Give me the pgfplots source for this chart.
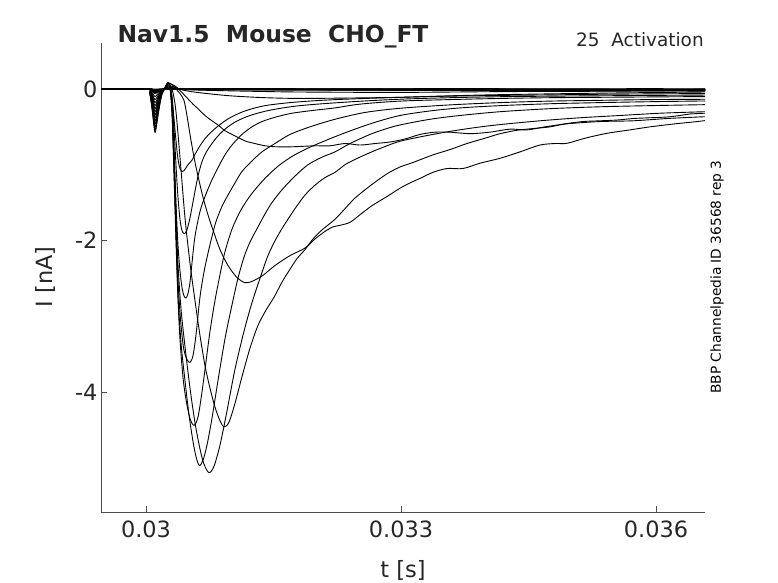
\documentclass[border=0pt]{standalone}
\usepackage{fontspec}
\setmainfont{DejaVu Sans}
\usepackage{pgfplots}
\pgfplotsset{compat=1.18}
\definecolor{axgray}{HTML}{4D4D4D}
\definecolor{txt}{HTML}{262626}
\begin{document}
\begin{tikzpicture}
\path[use as bounding box] (0bp,0bp) rectangle (778bp,583bp);
\begin{axis}[
  at={(101bp,71bp)}, anchor=south west, scale only axis,
  width=604bp, height=469bp,
  xmin=0.029471, xmax=0.036576, ymin=-5.584, ymax=0.607,
  axis lines=left, axis line style={-, draw=axgray, line width=0.8bp},
  tick align=inside, major tick length=6bp,
  tick style={draw=axgray, line width=0.8bp},
  scaled x ticks=false, scaled y ticks=false,
  xtick={0.03,0.033,0.036}, xticklabels={0.03,0.033,0.036},
  ytick={-4,-2,0}, yticklabels={-4,-2,0},
  ticklabel style={font=\fontsize{22.5}{26}\selectfont, text=txt},
  xticklabel style={yshift=-5.5bp},
  cycle list={{black, solid, mark=none}},
  every axis plot/.append style={smooth, tension=0.5, line width=0.9bp, line join=round},
]
% ---- flat traces ----
\addplot coordinates {(0.029471,0.003) (0.030024,0.003) (0.030071,0.001) (0.030106,-0.002) (0.030141,0.000) (0.030212,0.003) (0.030259,0.008) (0.030306,0.002) (0.031224,0.006) (0.032400,0.001) (0.033576,0.005) (0.034753,0.002) (0.035929,0.004) (0.036576,0.001)};
\addplot coordinates {(0.029471,-0.002) (0.030024,-0.002) (0.030071,-0.007) (0.030106,-0.012) (0.030141,-0.008) (0.030212,-0.002) (0.030259,0.010) (0.030306,-0.003) (0.031224,-0.001) (0.032400,-0.006) (0.033576,-0.002) (0.034753,-0.007) (0.035929,-0.003) (0.036576,-0.005)};
\addplot coordinates {(0.029471,0.001) (0.030024,0.001) (0.030071,-0.006) (0.030106,-0.015) (0.030141,-0.009) (0.030212,0.001) (0.030259,0.012) (0.030306,0.000) (0.031224,-0.003) (0.032400,0.002) (0.033576,-0.004) (0.034753,0.000) (0.035929,-0.005) (0.036576,-0.002)};
\addplot coordinates {(0.029471,-0.004) (0.030024,-0.004) (0.030071,-0.013) (0.030106,-0.024) (0.030141,-0.016) (0.030212,-0.004) (0.030259,0.012) (0.030306,-0.005) (0.031224,-0.008) (0.032400,-0.004) (0.033576,-0.009) (0.034753,-0.005) (0.035929,-0.008) (0.036576,-0.010)};
\addplot coordinates {(0.029471,0.002) (0.030024,0.002) (0.030071,-0.009) (0.030106,-0.025) (0.030141,-0.014) (0.030212,0.002) (0.030259,0.015) (0.030306,0.001) (0.031224,-0.001) (0.032400,-0.004) (0.033576,-0.001) (0.034753,-0.005) (0.035929,-0.008) (0.036576,-0.006)};
\addplot coordinates {(0.029471,-0.001) (0.030024,-0.001) (0.030071,-0.014) (0.030106,-0.030) (0.030141,-0.020) (0.030212,-0.001) (0.030259,0.016) (0.030306,-0.002) (0.031224,-0.005) (0.032400,-0.008) (0.033576,-0.005) (0.034753,-0.009) (0.035929,-0.011) (0.036576,-0.012)};
\addplot coordinates {(0.029471,0.000) (0.030024,0.000) (0.030071,-0.016) (0.030106,-0.035) (0.030141,-0.022) (0.030212,0.000) (0.030259,0.018) (0.030306,-0.003) (0.031224,-0.007) (0.032400,-0.010) (0.033576,-0.012) (0.034753,-0.014) (0.035929,-0.012) (0.036576,-0.015)};
\addplot coordinates {(0.029471,-0.003) (0.030024,-0.003) (0.030071,-0.020) (0.030106,-0.040) (0.030141,-0.027) (0.030212,-0.003) (0.030259,0.020) (0.030306,-0.004) (0.031224,-0.008) (0.032400,-0.012) (0.033576,-0.014) (0.034753,-0.016) (0.035929,-0.017) (0.036576,-0.018)};
\addplot coordinates {(0.029471,0.002) (0.030024,0.002) (0.030071,-0.020) (0.030106,-0.045) (0.030141,-0.028) (0.030212,0.002) (0.030259,0.022) (0.030306,0.000) (0.031224,-0.002) (0.032400,-0.006) (0.033576,-0.004) (0.034753,-0.007) (0.035929,-0.009) (0.036576,-0.008)};
\addplot coordinates {(0.029471,-0.002) (0.030024,-0.002) (0.030071,-0.024) (0.030106,-0.050) (0.030141,-0.033) (0.030212,-0.002) (0.030259,0.024) (0.030306,-0.004) (0.031224,-0.010) (0.032400,-0.013) (0.033576,-0.017) (0.034753,-0.019) (0.035929,-0.021) (0.036576,-0.022)};
\addplot coordinates {(0.029471,0.001) (0.030024,0.001) (0.030071,-0.024) (0.030106,-0.055) (0.030141,-0.033) (0.030212,0.001) (0.030259,0.026) (0.030306,-0.002) (0.031224,-0.006) (0.032400,-0.010) (0.033576,-0.012) (0.034753,-0.014) (0.035929,-0.016) (0.036576,-0.015)};
\addplot coordinates {(0.029471,-0.001) (0.030024,-0.001) (0.030071,-0.028) (0.030106,-0.060) (0.030141,-0.038) (0.030212,-0.001) (0.030259,0.028) (0.030306,-0.005) (0.031224,-0.011) (0.032400,-0.015) (0.033576,-0.019) (0.034753,-0.023) (0.035929,-0.026) (0.036576,-0.028)};
\addplot coordinates {(0.029471,0.000) (0.030024,0.000) (0.030047,-0.012) (0.030071,-0.045) (0.030094,-0.085) (0.030106,-0.100) (0.030118,-0.092) (0.030141,-0.062) (0.030165,-0.033) (0.030188,-0.012) (0.030212,-0.002) (0.030235,0.000) (0.030259,0.035) (0.030306,-0.003) (0.031224,-0.006) (0.032400,-0.004) (0.033576,-0.007) (0.034753,-0.008) (0.035929,-0.009) (0.036576,-0.010)};
% ---- S2 ----
\addplot coordinates {(0.029471,0.000) (0.030024,0.000) (0.030047,-0.017) (0.030071,-0.063) (0.030094,-0.119) (0.030106,-0.140) (0.030118,-0.129) (0.030141,-0.087) (0.030165,-0.046) (0.030188,-0.017) (0.030212,-0.003) (0.030235,0.000) (0.030259,0.030) (0.030400,0.000) (0.030635,-0.015) (0.031224,-0.030) (0.031812,-0.040) (0.032988,-0.045) (0.034165,-0.035) (0.035341,-0.030) (0.036576,-0.020)};
% ---- S1 ----
\addplot coordinates {(0.029471,0.000) (0.030024,0.000) (0.030047,-0.022) (0.030071,-0.081) (0.030094,-0.153) (0.030106,-0.180) (0.030118,-0.166) (0.030141,-0.112) (0.030165,-0.059) (0.030188,-0.022) (0.030212,-0.004) (0.030235,0.000) (0.030259,0.050) (0.030341,0.020) (0.030459,-0.020) (0.030635,-0.050) (0.030988,-0.090) (0.031400,-0.115) (0.031812,-0.125) (0.032341,-0.120) (0.032988,-0.110) (0.033576,-0.090) (0.034165,-0.075) (0.035341,-0.055) (0.036576,-0.040)};
% ---- P1 ----
\addplot coordinates {(0.029471,0.000) (0.030024,0.000) (0.030047,-0.026) (0.030071,-0.099) (0.030094,-0.187) (0.030106,-0.220) (0.030118,-0.202) (0.030141,-0.136) (0.030165,-0.073) (0.030188,-0.026) (0.030212,-0.004) (0.030235,0.035) (0.030259,0.070) (0.030306,0.060) (0.030353,0.030) (0.030400,-0.020) (0.030435,-0.060) (0.030494,-0.130) (0.030553,-0.200) (0.030612,-0.260) (0.030694,-0.350) (0.030776,-0.420) (0.030847,-0.475) (0.030929,-0.550) (0.031012,-0.600) (0.031082,-0.640) (0.031176,-0.690) (0.031282,-0.720) (0.031376,-0.745) (0.031482,-0.760) (0.031635,-0.765) (0.031788,-0.760) (0.031988,-0.750) (0.032165,-0.750) (0.032341,-0.720) (0.032518,-0.740) (0.032694,-0.720) (0.032871,-0.700) (0.033047,-0.660) (0.033224,-0.600) (0.033400,-0.570) (0.033576,-0.570) (0.033812,-0.590) (0.034047,-0.570) (0.034282,-0.530) (0.034482,-0.540) (0.034694,-0.500) (0.034953,-0.460) (0.035341,-0.430) (0.035729,-0.420) (0.036129,-0.390) (0.036400,-0.375) (0.036576,-0.366)};
% ---- P2 ----
\addplot coordinates {(0.029471,0.000) (0.030024,0.000) (0.030047,-0.031) (0.030071,-0.117) (0.030094,-0.221) (0.030106,-0.260) (0.030118,-0.239) (0.030141,-0.161) (0.030165,-0.086) (0.030188,-0.031) (0.030212,-0.005) (0.030235,0.040) (0.030259,0.080) (0.030306,0.060) (0.030353,0.000) (0.030400,-0.060) (0.030447,-0.150) (0.030482,-0.350) (0.030518,-0.600) (0.030565,-0.900) (0.030612,-1.150) (0.030671,-1.430) (0.030729,-1.660) (0.030788,-1.860) (0.030871,-2.120) (0.030965,-2.330) (0.031071,-2.490) (0.031165,-2.557) (0.031247,-2.540) (0.031376,-2.460) (0.031518,-2.330) (0.031694,-2.200) (0.031871,-2.100) (0.031988,-1.980) (0.032106,-1.880) (0.032200,-1.820) (0.032282,-1.800) (0.032400,-1.760) (0.032518,-1.660) (0.032659,-1.540) (0.032835,-1.420) (0.032988,-1.310) (0.033106,-1.240) (0.033224,-1.180) (0.033376,-1.100) (0.033541,-1.050) (0.033729,-1.050) (0.033929,-0.980) (0.034165,-0.915) (0.034400,-0.830) (0.034635,-0.740) (0.034812,-0.720) (0.034953,-0.717) (0.035165,-0.650) (0.035424,-0.585) (0.035694,-0.540) (0.035929,-0.500) (0.036224,-0.460) (0.036400,-0.440) (0.036576,-0.418)};
% ---- P3 ----
\addplot coordinates {(0.029471,0.000) (0.030024,0.000) (0.030047,-0.036) (0.030071,-0.135) (0.030094,-0.255) (0.030106,-0.300) (0.030118,-0.276) (0.030141,-0.186) (0.030165,-0.099) (0.030188,-0.036) (0.030212,-0.006) (0.030235,0.040) (0.030259,0.080) (0.030282,0.050) (0.030318,-0.050) (0.030353,-0.300) (0.030400,-0.900) (0.030459,-1.700) (0.030518,-2.300) (0.030576,-2.790) (0.030635,-3.250) (0.030694,-3.650) (0.030753,-3.950) (0.030812,-4.200) (0.030871,-4.380) (0.030918,-4.460) (0.030976,-4.400) (0.031047,-4.150) (0.031129,-3.800) (0.031224,-3.420) (0.031318,-3.120) (0.031412,-2.920) (0.031506,-2.750) (0.031600,-2.550) (0.031694,-2.380) (0.031776,-2.240) (0.031871,-2.120) (0.031965,-1.980) (0.032071,-1.860) (0.032224,-1.720) (0.032341,-1.580) (0.032459,-1.440) (0.032635,-1.280) (0.032835,-1.120) (0.032988,-1.030) (0.033141,-0.970) (0.033376,-0.870) (0.033576,-0.800) (0.033776,-0.720) (0.033988,-0.650) (0.034165,-0.590) (0.034365,-0.545) (0.034576,-0.520) (0.034753,-0.500) (0.034929,-0.460) (0.035141,-0.430) (0.035341,-0.420) (0.035541,-0.410) (0.035729,-0.390) (0.035929,-0.380) (0.036129,-0.370) (0.036282,-0.350) (0.036400,-0.330) (0.036576,-0.320)};
% ---- P4 ----
\addplot coordinates {(0.029471,0.000) (0.030024,0.000) (0.030047,-0.041) (0.030071,-0.153) (0.030094,-0.289) (0.030106,-0.340) (0.030118,-0.313) (0.030141,-0.211) (0.030165,-0.112) (0.030188,-0.041) (0.030212,-0.007) (0.030235,0.040) (0.030259,0.080) (0.030282,0.030) (0.030306,-0.150) (0.030329,-0.750) (0.030353,-1.600) (0.030376,-2.300) (0.030412,-2.900) (0.030459,-3.400) (0.030518,-3.950) (0.030576,-4.400) (0.030635,-4.750) (0.030682,-4.950) (0.030741,-5.065) (0.030800,-4.980) (0.030871,-4.700) (0.030953,-4.250) (0.031047,-3.700) (0.031153,-3.200) (0.031247,-2.820) (0.031341,-2.500) (0.031435,-2.200) (0.031529,-1.980) (0.031624,-1.800) (0.031753,-1.580) (0.031871,-1.400) (0.031988,-1.270) (0.032106,-1.170) (0.032224,-1.100) (0.032341,-1.000) (0.032459,-0.930) (0.032635,-0.840) (0.032812,-0.760) (0.032988,-0.690) (0.033282,-0.620) (0.033576,-0.560) (0.033871,-0.510) (0.034165,-0.470) (0.034635,-0.420) (0.035106,-0.380) (0.035576,-0.350) (0.036047,-0.320) (0.036576,-0.300)};
% ---- P5 ----
\addplot coordinates {(0.029471,0.000) (0.030024,0.000) (0.030047,-0.046) (0.030071,-0.171) (0.030094,-0.323) (0.030106,-0.380) (0.030118,-0.350) (0.030141,-0.236) (0.030165,-0.125) (0.030188,-0.046) (0.030212,-0.008) (0.030235,0.040) (0.030259,0.080) (0.030282,0.020) (0.030306,-0.250) (0.030329,-1.000) (0.030353,-1.900) (0.030376,-2.700) (0.030412,-3.350) (0.030459,-3.850) (0.030506,-4.300) (0.030553,-4.650) (0.030588,-4.850) (0.030627,-4.970) (0.030671,-4.900) (0.030718,-4.700) (0.030776,-4.350) (0.030847,-3.850) (0.030929,-3.300) (0.031012,-2.850) (0.031082,-2.500) (0.031153,-2.220) (0.031224,-2.020) (0.031318,-1.820) (0.031400,-1.650) (0.031482,-1.500) (0.031600,-1.330) (0.031753,-1.150) (0.031906,-1.000) (0.032071,-0.900) (0.032224,-0.830) (0.032400,-0.720) (0.032635,-0.600) (0.032812,-0.530) (0.032988,-0.475) (0.033341,-0.400) (0.033694,-0.350) (0.034165,-0.300) (0.034753,-0.260) (0.035341,-0.235) (0.035929,-0.220) (0.036576,-0.207)};
% ---- P6 ----
\addplot coordinates {(0.029471,0.000) (0.030024,0.000) (0.030047,-0.050) (0.030071,-0.189) (0.030094,-0.357) (0.030106,-0.420) (0.030118,-0.386) (0.030141,-0.260) (0.030165,-0.139) (0.030188,-0.050) (0.030212,-0.008) (0.030235,0.040) (0.030259,0.080) (0.030282,0.020) (0.030306,-0.300) (0.030329,-1.100) (0.030353,-2.000) (0.030376,-2.750) (0.030400,-3.300) (0.030435,-3.800) (0.030471,-4.100) (0.030518,-4.350) (0.030565,-4.440) (0.030612,-4.330) (0.030659,-4.000) (0.030706,-3.600) (0.030753,-3.200) (0.030812,-2.790) (0.030871,-2.450) (0.030929,-2.150) (0.031012,-1.850) (0.031106,-1.620) (0.031200,-1.450) (0.031282,-1.330) (0.031400,-1.180) (0.031553,-1.020) (0.031718,-0.890) (0.031906,-0.780) (0.032071,-0.700) (0.032224,-0.630) (0.032459,-0.530) (0.032694,-0.440) (0.032988,-0.350) (0.033341,-0.290) (0.033694,-0.250) (0.034165,-0.220) (0.034753,-0.195) (0.035341,-0.180) (0.035929,-0.168) (0.036576,-0.158)};
% ---- P7 ----
\addplot coordinates {(0.029471,0.000) (0.030024,0.000) (0.030047,-0.055) (0.030071,-0.207) (0.030094,-0.391) (0.030106,-0.460) (0.030118,-0.423) (0.030141,-0.285) (0.030165,-0.152) (0.030188,-0.055) (0.030212,-0.009) (0.030235,0.040) (0.030259,0.080) (0.030282,0.020) (0.030306,-0.300) (0.030329,-1.000) (0.030353,-1.800) (0.030376,-2.500) (0.030400,-2.950) (0.030424,-3.250) (0.030447,-3.450) (0.030482,-3.570) (0.030518,-3.610) (0.030553,-3.520) (0.030588,-3.250) (0.030635,-2.750) (0.030682,-2.420) (0.030729,-2.170) (0.030776,-1.950) (0.030824,-1.750) (0.030894,-1.550) (0.030965,-1.400) (0.031047,-1.240) (0.031129,-1.090) (0.031247,-0.950) (0.031365,-0.830) (0.031518,-0.720) (0.031694,-0.600) (0.031929,-0.500) (0.032224,-0.400) (0.032576,-0.310) (0.032988,-0.255) (0.033576,-0.210) (0.034165,-0.180) (0.034753,-0.160) (0.035341,-0.150) (0.035929,-0.140) (0.036576,-0.136)};
% ---- P8 ----
\addplot coordinates {(0.029471,0.000) (0.030024,0.000) (0.030047,-0.060) (0.030071,-0.225) (0.030094,-0.425) (0.030106,-0.500) (0.030118,-0.460) (0.030141,-0.310) (0.030165,-0.165) (0.030188,-0.060) (0.030212,-0.010) (0.030235,0.040) (0.030259,0.080) (0.030282,0.030) (0.030306,-0.200) (0.030329,-0.800) (0.030353,-1.500) (0.030376,-2.050) (0.030400,-2.400) (0.030424,-2.620) (0.030447,-2.730) (0.030471,-2.760) (0.030494,-2.700) (0.030518,-2.550) (0.030541,-2.300) (0.030576,-1.950) (0.030635,-1.620) (0.030694,-1.420) (0.030776,-1.200) (0.030847,-1.040) (0.030929,-0.870) (0.031012,-0.740) (0.031129,-0.600) (0.031247,-0.500) (0.031365,-0.430) (0.031529,-0.370) (0.031718,-0.320) (0.031988,-0.280) (0.032224,-0.250) (0.032518,-0.200) (0.032988,-0.160) (0.033576,-0.140) (0.034165,-0.125) (0.034753,-0.115) (0.035341,-0.110) (0.035929,-0.105) (0.036576,-0.100)};
% ---- P9 ----
\addplot coordinates {(0.029471,0.000) (0.030024,0.000) (0.030047,-0.065) (0.030071,-0.243) (0.030094,-0.459) (0.030106,-0.540) (0.030118,-0.497) (0.030141,-0.335) (0.030165,-0.178) (0.030188,-0.065) (0.030212,-0.011) (0.030235,0.040) (0.030259,0.080) (0.030282,0.040) (0.030306,-0.120) (0.030329,-0.500) (0.030353,-1.000) (0.030376,-1.420) (0.030400,-1.720) (0.030424,-1.870) (0.030453,-1.910) (0.030482,-1.860) (0.030518,-1.700) (0.030565,-1.420) (0.030612,-1.150) (0.030659,-0.960) (0.030706,-0.840) (0.030776,-0.720) (0.030847,-0.620) (0.030941,-0.520) (0.031059,-0.430) (0.031224,-0.350) (0.031459,-0.280) (0.031812,-0.220) (0.032400,-0.170) (0.032988,-0.135) (0.033576,-0.115) (0.034165,-0.102) (0.034753,-0.095) (0.035341,-0.090) (0.035929,-0.085) (0.036576,-0.080)};
% ---- P10 ----
\addplot coordinates {(0.029471,0.000) (0.030024,0.000) (0.030047,-0.069) (0.030071,-0.259) (0.030094,-0.489) (0.030106,-0.575) (0.030118,-0.529) (0.030141,-0.357) (0.030165,-0.190) (0.030188,-0.069) (0.030212,-0.012) (0.030235,0.040) (0.030259,0.080) (0.030282,0.050) (0.030306,-0.100) (0.030329,-0.380) (0.030353,-0.680) (0.030376,-0.920) (0.030400,-1.050) (0.030429,-1.090) (0.030459,-1.060) (0.030494,-1.000) (0.030541,-0.940) (0.030588,-0.840) (0.030635,-0.750) (0.030706,-0.640) (0.030776,-0.560) (0.030847,-0.490) (0.030918,-0.430) (0.030988,-0.380) (0.031059,-0.340) (0.031165,-0.290) (0.031318,-0.240) (0.031459,-0.210) (0.031694,-0.180) (0.031988,-0.155) (0.032341,-0.135) (0.032988,-0.110) (0.033576,-0.095) (0.034165,-0.085) (0.034753,-0.078) (0.035341,-0.070) (0.035929,-0.065) (0.036576,-0.060)};
\end{axis}
\node[anchor=base west, text=txt, font=\fontsize{23.5}{28}\selectfont\bfseries] at (114bp,540bp) {Nav1.5\ \ Mouse\ \ CHO\_FT};
\node[anchor=base west, text=txt, font=\fontsize{18.5}{22}\selectfont] at (572.7bp,536.3bp) {25\ \ Activation};
\node[rotate=90, anchor=center, text=black, font=\fontsize{13.8}{16}\selectfont] at (717bp,306bp) {BBP Channelpedia ID 36568 rep 3};
\node[anchor=base, text=txt, font=\fontsize{22.5}{26}\selectfont] at (403bp,6bp) {t [s]};
\node[rotate=90, anchor=center, text=txt, font=\fontsize{22.5}{26}\selectfont] at (45bp,306bp) {I [nA]};
\end{tikzpicture}
\end{document}
